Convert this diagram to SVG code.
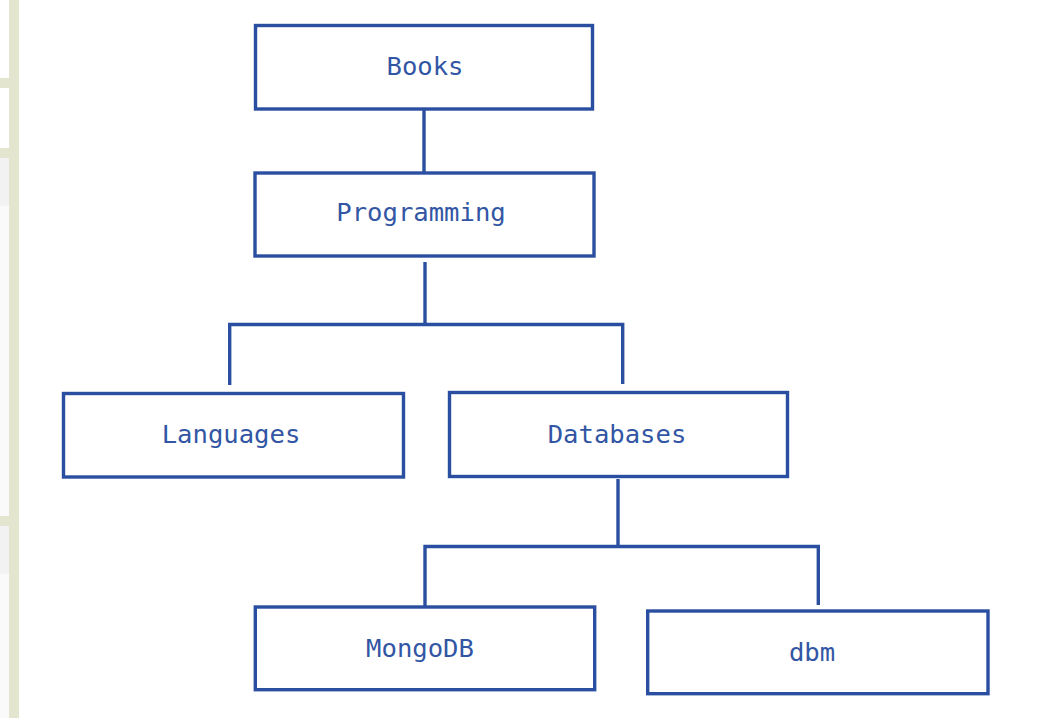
<svg xmlns="http://www.w3.org/2000/svg" width="1045" height="718" viewBox="0 0 1045 718">
  <style>
    .box { fill: #ffffff; stroke: #2b4fa0; stroke-width: 3.4; }
    .lbl { font-family: "DejaVu Sans Mono", "Liberation Mono", monospace; font-size: 25.6px; fill: #3356a4; text-anchor: middle; }
    .conn { fill: none; stroke: #2b4fa0; stroke-width: 3.4; stroke-linejoin: miter; }
    .beige { fill: #e4e5cf; }
  </style>
  <rect x="0" y="0" width="1045" height="718" fill="#ffffff"/>
  <g id="sidebar">
    <rect x="0" y="158" width="9" height="48" fill="#f2f2f2"/>
    <rect x="0" y="206" width="9" height="310" fill="#fafafa"/>
    <rect x="0" y="526" width="9" height="48" fill="#f2f2f2"/>
    <rect x="0" y="574" width="9" height="144" fill="#fafafa"/>
    <rect class="beige" x="0" y="78" width="9" height="10"/>
    <rect class="beige" x="0" y="148" width="9" height="10"/>
    <rect class="beige" x="0" y="516" width="9" height="10"/>
    <rect class="beige" x="9" y="0" width="10" height="718"/>
  </g>
  <g id="connectors">
    <line class="conn" x1="424" y1="109" x2="424" y2="173"/>
    <line class="conn" x1="425" y1="262" x2="425" y2="324.5"/>
    <polyline class="conn" points="229.7,385 229.7,324.5 622.7,324.5 622.7,384"/>
    <line class="conn" x1="618" y1="479" x2="618" y2="546.5"/>
    <polyline class="conn" points="425,607 425,546.5 818.3,546.5 818.3,605"/>
  </g>
  <g id="books">
    <rect class="box" x="255.5" y="25.5" width="337" height="83.5"/>
    <text class="lbl" x="425" y="75">Books</text>
  </g>
  <g id="programming">
    <rect class="box" x="255" y="173" width="339" height="83"/>
    <text class="lbl" x="421" y="221">Programming</text>
  </g>
  <g id="languages">
    <rect class="box" x="63.5" y="393.5" width="340" height="83.5"/>
    <text class="lbl" x="231" y="443">Languages</text>
  </g>
  <g id="databases">
    <rect class="box" x="449.5" y="392.5" width="338" height="84"/>
    <text class="lbl" x="617" y="442.5">Databases</text>
  </g>
  <g id="mongodb">
    <rect class="box" x="255.3" y="607" width="339.4" height="82.7"/>
    <text class="lbl" x="420" y="657">MongoDB</text>
  </g>
  <g id="dbm">
    <rect class="box" x="647.7" y="611" width="340.3" height="82.7"/>
    <text class="lbl" x="812" y="660.5">dbm</text>
  </g>
</svg>
